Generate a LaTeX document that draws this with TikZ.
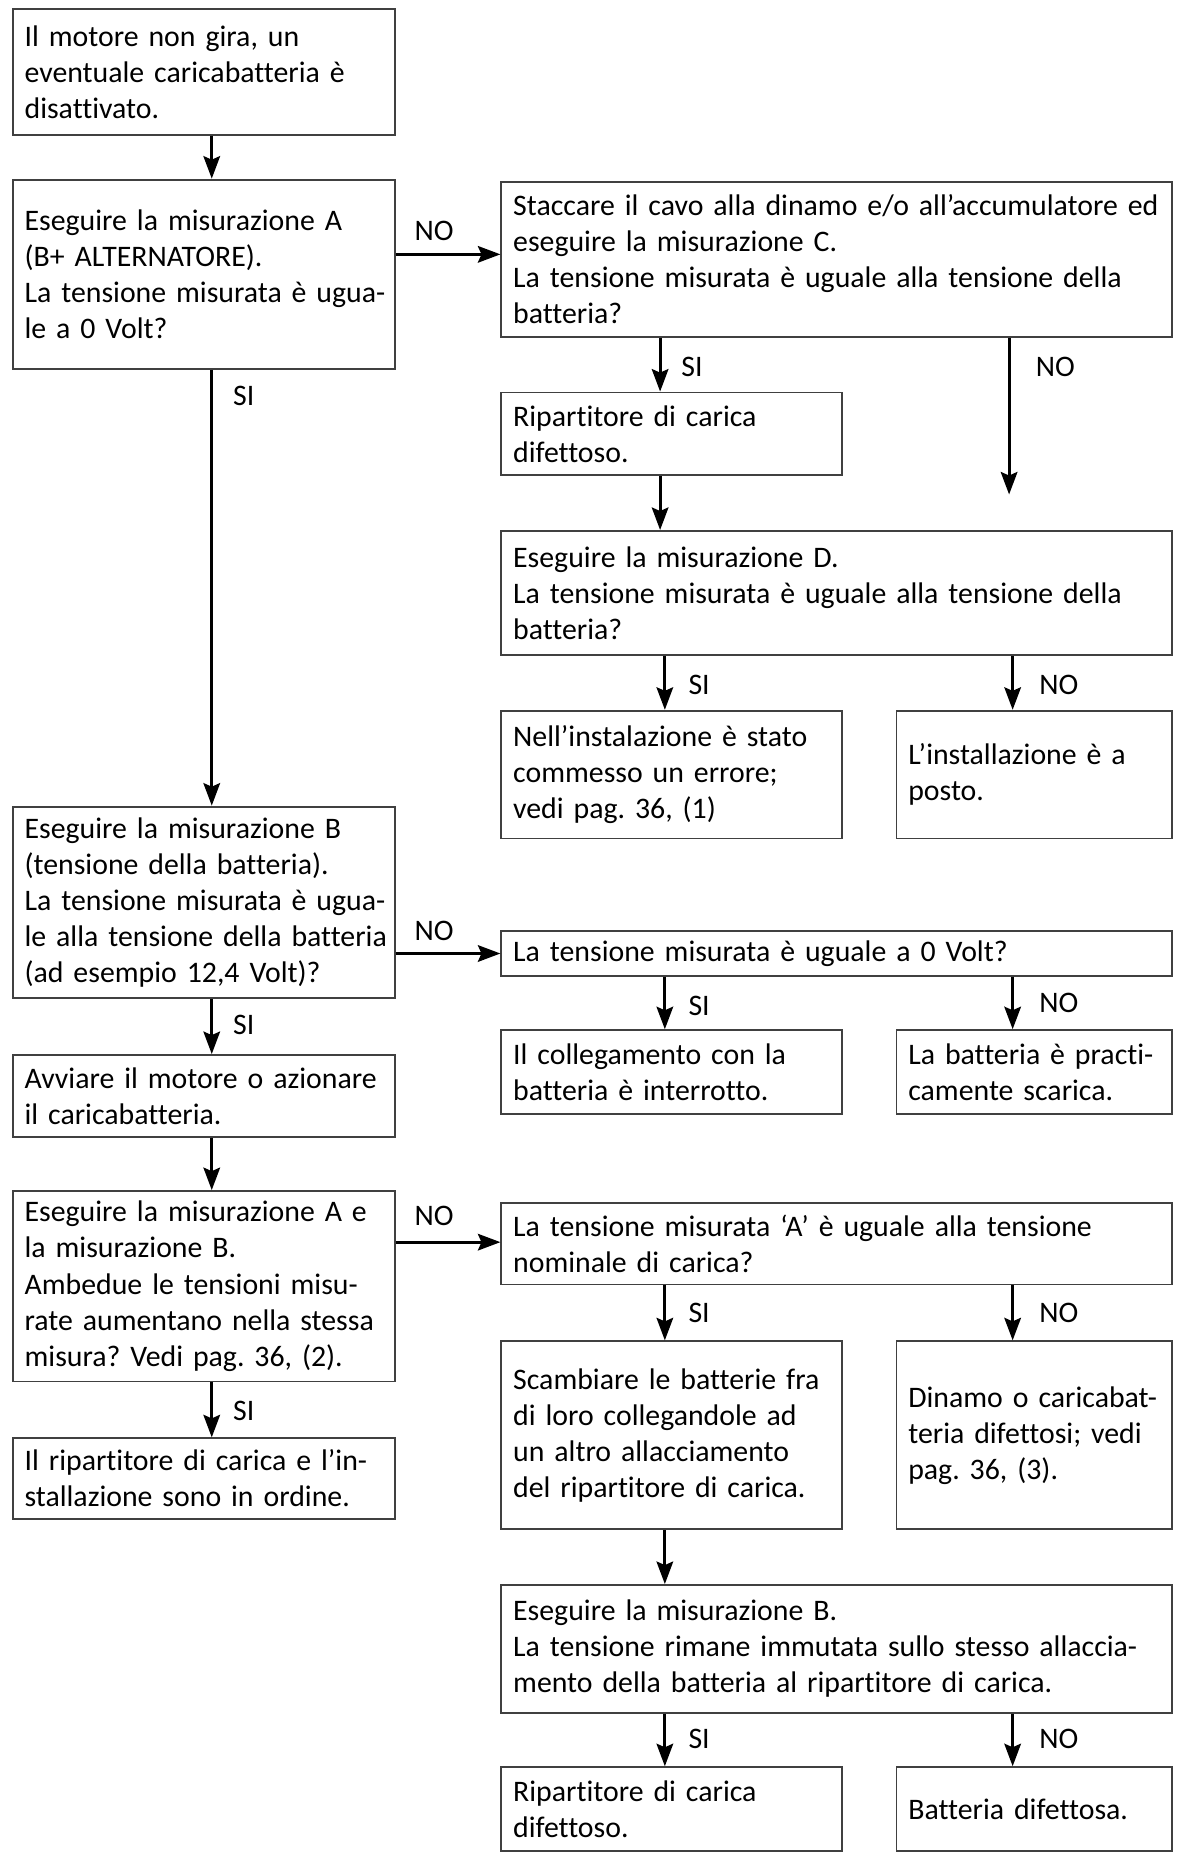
\documentclass[tikz,border=0pt]{standalone}
\usepackage{fontspec}
\setmainfont[Ligatures=NoCommon,WordSpace=0.75]{Carlito}
\usetikzlibrary{arrows.meta}
\frenchspacing
\newcommand{\fs}{\fontsize{25.2}{30.5}\selectfont}
\tikzset{
  box/.style={draw=black!75, line width=1.6pt, rectangle, inner xsep=10pt, inner ysep=0pt,
    align=left, anchor=north west, font=\fs},
  arr/.style={line width=2.5pt, -{Stealth[length=19pt,width=14pt,inset=3pt]}},
  lab/.style={font=\fs, inner sep=0pt}
}
\begin{document}
\begin{tikzpicture}[x=1pt,y=1pt]
\useasboundingbox[fill=white] (0,0) rectangle (995.8,-1568.9);
% left column
\node[box, text width=303pt, minimum height=106pt] (b1) at (10,-7) {Il motore non gira, un\\eventuale caricabatteria è\\disattivato.};
\node[box, text width=303pt, minimum height=160pt] (b2) at (10,-151) {Eseguire la misurazione A\\(B+ ALTERNATORE).\\\mbox{La tensione misurata è ugua-}\\le a 0 Volt?};
\node[box, text width=303pt, minimum height=162pt] (b3) at (10,-681) {Eseguire la misurazione B\\(tensione della batteria).\\\mbox{La tensione misurata è ugua-}\\\mbox{le alla tensione della batteria}\\(ad esempio 12,4 Volt)?};
\node[box, text width=303pt, minimum height=69pt] (b4) at (10,-891) {\mbox{Avviare il motore o azionare}\\il caricabatteria.};
\node[box, text width=303pt, minimum height=161pt] (b5) at (10,-1006) {Eseguire la misurazione A e\\la misurazione B.\\Ambedue le tensioni misu-\\\mbox{rate aumentano nella stessa}\\misura? Vedi pag. 36, (2).};
\node[box, text width=303pt, minimum height=68pt] (b6) at (10,-1215) {\mbox{Il ripartitore di carica e l’in-}\\stallazione sono in ordine.};
% right column
\node[box, text width=547pt, minimum height=131pt] (c) at (423,-153) {\mbox{Staccare il cavo alla dinamo e/o all’accumulatore ed}\\eseguire la misurazione C.\\\mbox{La tensione misurata è uguale alla tensione della}\\batteria?};
\node[box, text width=268pt, minimum height=70pt] (r1) at (423,-331) {Ripartitore di carica\\difettoso.};
\node[box, text width=547pt, minimum height=105pt] (d) at (423,-448) {Eseguire la misurazione D.\\\mbox{La tensione misurata è uguale alla tensione della}\\batteria?};
\node[box, text width=268pt, minimum height=108pt] (e1) at (423,-600) {Nell’instalazione è stato\\commesso un errore;\\vedi pag. 36, (1)};
\node[box, text width=213pt, minimum height=108pt] (e2) at (757,-600) {L’installazione è a\\posto.};
\node[box, text width=547pt, minimum height=38pt] (f) at (423,-786) {La tensione misurata è uguale a 0 Volt?};
\node[box, text width=268pt, minimum height=71pt] (f1) at (423,-870) {Il collegamento con la\\batteria è interrotto.};
\node[box, text width=213pt, minimum height=71pt] (f2) at (757,-870) {\mbox{La batteria è practi-}\\camente scarica.};
\node[box, text width=547pt, minimum height=69pt] (g) at (423,-1016) {La tensione misurata ‘A’ è uguale alla tensione\\nominale di carica?};
\node[box, text width=268pt, minimum height=159pt] (g1) at (423,-1133) {Scambiare le batterie fra\\di loro collegandole ad\\un altro allacciamento\\\mbox{del ripartitore di carica.}};
\node[box, text width=213pt, minimum height=159pt] (g2) at (757,-1133) {\mbox{Dinamo o caricabat-}\\\mbox{teria difettosi; vedi}\\pag. 36, (3).};
\node[box, text width=547pt, minimum height=108pt] (h) at (423,-1339) {Eseguire la misurazione B.\\\mbox{La tensione rimane immutata sullo stesso allaccia-}\\\mbox{mento della batteria al ripartitore di carica.}};
\node[box, text width=268pt, minimum height=71pt] (h1) at (423,-1493) {Ripartitore di carica\\difettoso.};
\node[box, text width=213pt, minimum height=71pt] (h2) at (757,-1493) {Batteria difettosa.};
% guide coordinates
\coordinate (lx) at (179,0);
\coordinate (sx) at (558,0);
\coordinate (sy) at (562,0);
\coordinate (nx) at (856,0);
\coordinate (cno) at (853,-418);
% left column arrows
\draw[arr] (b1.south -| lx) -- (b2.north -| lx);
\draw[arr] (b2.south -| lx) -- (b3.north -| lx);
\draw[arr] (b3.south -| lx) -- (b4.north -| lx);
\draw[arr] (b4.south -| lx) -- (b5.north -| lx);
\draw[arr] (b5.south -| lx) -- (b6.north -| lx);
% horizontal arrows
\draw[arr] (b2.east |- 0,-215) -- (c.west |- 0,-215);
\draw[arr] (b3.east |- 0,-806) -- (f.west |- 0,-806);
\draw[arr] (b5.east |- 0,-1050) -- (g.west |- 0,-1050);
% right column arrows
\draw[arr] (c.south -| sx) -- (r1.north -| sx);
\draw[arr] (r1.south -| sx) -- (d.north -| sx);
\draw[arr] (c.south -| cno) -- (cno);
\draw[arr] (d.south -| sy) -- (e1.north -| sy);
\draw[arr] (d.south -| nx) -- (e2.north -| nx);
\draw[arr] (f.south -| sy) -- (f1.north -| sy);
\draw[arr] (f.south -| nx) -- (f2.north -| nx);
\draw[arr] (g.south -| sy) -- (g1.north -| sy);
\draw[arr] (g.south -| nx) -- (g2.north -| nx);
\draw[arr] (g1.south -| sy) -- (h.north -| sy);
\draw[arr] (h.south -| sy) -- (h1.north -| sy);
\draw[arr] (h.south -| nx) -- (h2.north -| nx);
% labels
\node[lab] (l1) at (367,-195) {NO};
\node[lab] (l2) at (367,-787) {NO};
\node[lab] (l3) at (367,-1028) {NO};
\node[lab] (l4) at (206,-335) {SI};
\node[lab] (l5) at (206,-866) {SI};
\node[lab] (l6) at (206,-1193) {SI};
\node[lab] (l7) at (585,-310) {SI};
\node[lab] (l8) at (892,-310) {NO};
\node[lab] (l9) at (591,-579) {SI};
\node[lab] (l10) at (895,-579) {NO};
\node[lab] (l11) at (591,-850) {SI};
\node[lab] (l12) at (895,-848) {NO};
\node[lab] (l13) at (591,-1110) {SI};
\node[lab] (l14) at (895,-1110) {NO};
\node[lab] (l15) at (591,-1470) {SI};
\node[lab] (l16) at (895,-1470) {NO};
\end{tikzpicture}
\end{document}
